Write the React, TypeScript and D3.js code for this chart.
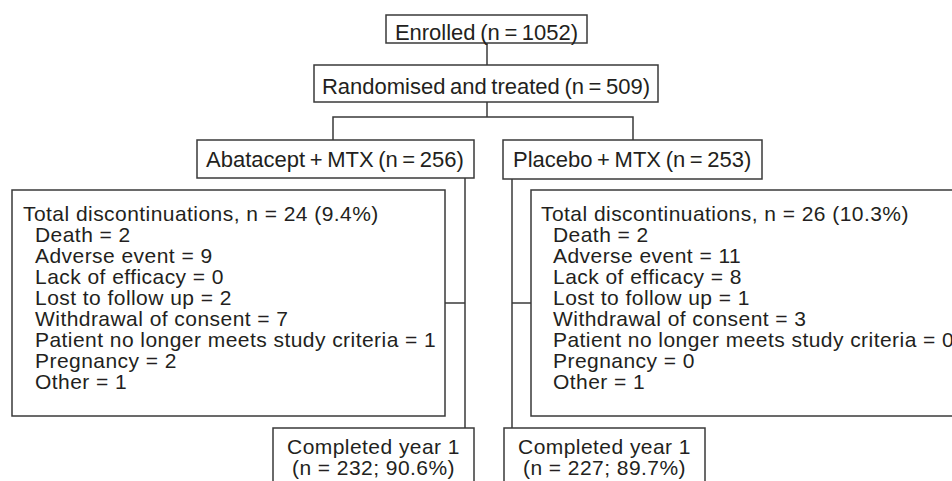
// CONSORT-style flow diagram: enrolment → randomisation → two arms → discontinuations → completers.
import * as d3 from "d3";

const enrolledN = 1052;
const randomisedN = 509;
const armNames = ["Abatacept + MTX", "Placebo + MTX"];
const armN = [256, 253];
const discTotal = [24, 26];
const discPct = ["9.4", "10.3"];
const reasons = [
  "Death",
  "Adverse event",
  "Lack of efficacy",
  "Lost to follow up",
  "Withdrawal of consent",
  "Patient no longer meets study criteria",
  "Pregnancy",
  "Other",
];
const abataceptReasons = [2, 9, 0, 2, 7, 1, 2, 1];
const placeboReasons = [2, 11, 8, 1, 3, 0, 0, 1];
const completedN = [232, 227];
const completedPct = ["90.6", "89.7"];

const W = 952;
const H = 481;
const STROKE = "#3a3a3a";
const INK = "#231f20";
const FONT = "'Liberation Sans', Arial, Helvetica, sans-serif";
const FS = 22;
const FS_LIST = 21; // tighter rows inside the lists
const TRACK = 0.45;

type Box = { x: number; y: number; w: number; h: number };

// layout
const enrolledBox: Box = { x: 386, y: 15, w: 201, h: 28 };
const randBox: Box = { x: 314, y: 65, w: 344, h: 37 };
const armBoxes: Box[] = [
  { x: 197, y: 140, w: 277, h: 38 },
  { x: 503, y: 140, w: 259, h: 39 },
];
const discBoxes: Box[] = [
  { x: 12, y: 190, w: 433, h: 226 },
  { x: 531, y: 190, w: 440, h: 226 },
];
const doneBoxes: Box[] = [
  { x: 273, y: 428, w: 201, h: 70 },
  { x: 504, y: 428, w: 201, h: 70 },
];
const spineX = [465, 512];
const splitY = 117;
const branchY = 303;
const armTextX = [206, 513];
const discTitleX = [23, 541];
const discItemX = [35, 553];

const rowY = d3.scaleLinear().domain([0, 1]).range([242, 263]);
const line = d3.line<[number, number]>();

function Rect({ b }: { b: Box }) {
  return <rect x={b.x} y={b.y} width={b.w} height={b.h} fill="#fff" stroke={STROKE} strokeWidth={1.5} />;
}

export default function App() {
  const connectors: [number, number][][] = [
    [[487, enrolledBox.y + enrolledBox.h], [487, randBox.y]],
    [[487, randBox.y + randBox.h], [487, splitY]],
    [[333, armBoxes[0].y], [333, splitY], [633, splitY], [633, armBoxes[1].y]],
    [[spineX[0], armBoxes[0].y + armBoxes[0].h], [spineX[0], doneBoxes[0].y]],
    [[discBoxes[0].x + discBoxes[0].w, branchY], [spineX[0], branchY]],
    [[spineX[1], armBoxes[1].y + armBoxes[1].h], [spineX[1], doneBoxes[1].y]],
    [[spineX[1], branchY], [discBoxes[1].x, branchY]],
  ];
  const reasonCounts = [abataceptReasons, placeboReasons];

  return (
    <svg
      width={W}
      height={H}
      style={{ position: "absolute", left: 0, top: 0, background: "#fff" }}
      fontFamily={FONT}
      fontSize={FS}
      fill={INK}
    >
      {connectors.map((pts, i) => (
        <path key={i} d={line(pts) ?? ""} fill="none" stroke={STROKE} strokeWidth={1.5} />
      ))}

      <Rect b={enrolledBox} />
      <text x={enrolledBox.x + enrolledBox.w / 2} y={40} textAnchor="middle" wordSpacing={-1.5}>
        {`Enrolled (n = ${enrolledN})`}
      </text>

      <Rect b={randBox} />
      <text x={randBox.x + randBox.w / 2} y={94} textAnchor="middle" wordSpacing={-1.5}>
        {`Randomised and treated (n = ${randomisedN})`}
      </text>

      {armNames.map((name, a) => (
        <g key={name}>
          <Rect b={armBoxes[a]} />
          <text x={armTextX[a]} y={167} wordSpacing={-1.5}>{`${name} (n = ${armN[a]})`}</text>

          <Rect b={discBoxes[a]} />
          <g fontSize={FS_LIST} letterSpacing={TRACK}>
            <text x={discTitleX[a]} y={221}>
              {`Total discontinuations, n = ${discTotal[a]} (${discPct[a]}%)`}
            </text>
            {reasons.map((r, i) => (
              <text key={r} x={discItemX[a]} y={rowY(i)}>
                {`${r} = ${reasonCounts[a][i]}`}
              </text>
            ))}
          </g>

          <Rect b={doneBoxes[a]} />
          <g fontSize={FS_LIST} letterSpacing={TRACK} textAnchor="middle">
            <text x={doneBoxes[a].x + doneBoxes[a].w / 2} y={454}>
              Completed year 1
            </text>
            <text x={doneBoxes[a].x + doneBoxes[a].w / 2} y={475}>
              {`(n = ${completedN[a]}; ${completedPct[a]}%)`}
            </text>
          </g>
        </g>
      ))}
    </svg>
  );
}
